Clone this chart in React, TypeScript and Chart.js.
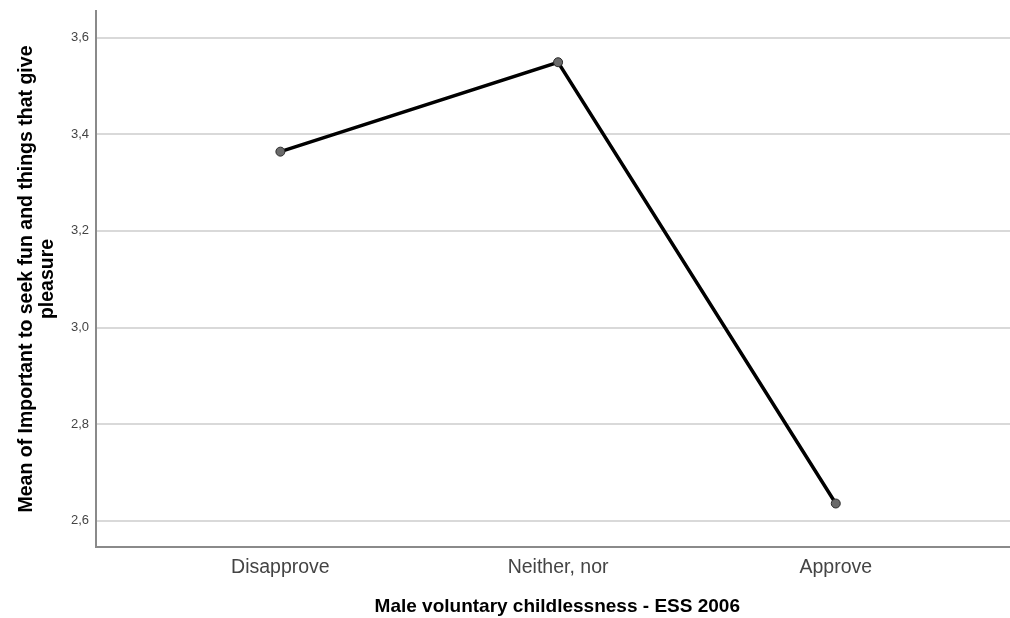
import React, { useEffect, useRef } from "react";
import { Chart, registerables } from "chart.js";

Chart.register(...registerables);

const categories = ["Disapprove", "Neither, nor", "Approve"];
const meanValues = [3.364, 3.549, 2.636];
const yTickValues = [2.6, 2.8, 3.0, 3.2, 3.4, 3.6];
const yTitle = ["Mean of Important to seek fun and things that give", "pleasure"];
const xTitle = "Male voluntary childlessness - ESS 2006";

export default function App() {
  const ref = useRef<HTMLCanvasElement | null>(null);

  useEffect(() => {
    if (!ref.current) return;
    const font = "'Liberation Sans', Arial, sans-serif";
    const chart = new Chart(ref.current, {
      type: "line",
      data: {
        datasets: [
          {
            data: categories.map((c, i) => ({ x: i, y: meanValues[i] })),
            borderColor: "#000000",
            borderWidth: 3.5,
            pointRadius: 4.5,
            pointBackgroundColor: "#6a6a6a",
            pointBorderColor: "#2a2a2a",
            pointBorderWidth: 1,
            tension: 0,
          },
        ],
      },
      options: {
        animation: false,
        responsive: false,
        maintainAspectRatio: false,
        layout: { padding: { top: 11, left: 0, right: 0, bottom: 0 } },
        plugins: { legend: { display: false }, tooltip: { enabled: false } },
        scales: {
          x: {
            type: "linear",
            min: -0.664,
            max: 2.658,
            afterBuildTicks: (s: any) => {
              s.ticks = categories.map((_, i) => ({ value: i }));
            },
            afterFit: (s: any) => {
              s.height = 71;
            },
            grid: { display: false, drawTicks: false },
            border: { display: true, color: "#8a8a8a", width: 2 },
            ticks: {
              padding: 9,
              color: "#444444",
              font: { family: font, size: 19.5 },
              maxRotation: 0,
              callback: (v: any) => categories[v as number] ?? "",
            },
            title: {
              display: true,
              text: xTitle,
              color: "#000000",
              font: { family: font, size: 19, weight: "bold" },
              padding: { top: 0, bottom: 0 },
            },
          },
          y: {
            min: 2.546,
            max: 3.655,
            afterBuildTicks: (s: any) => {
              s.ticks = yTickValues.map((v) => ({ value: v }));
            },
            afterFit: (s: any) => {
              s.width = 96;
            },
            grid: {
              color: "#d9d9d9",
              lineWidth: 2,
              drawTicks: true,
              tickLength: 4,
              tickColor: "rgba(0,0,0,0)",
            },
            border: { display: true, color: "#8a8a8a", width: 2 },
            ticks: {
              padding: 3,
              color: "#444444",
              font: { family: font, size: 13 },
              callback: (v: any) => Number(v).toFixed(1).replace(".", ","),
            },
            title: {
              display: true,
              text: yTitle,
              color: "#000000",
              font: { family: font, size: 19.5, weight: "bold", lineHeight: 1.05 },
              padding: { top: 16.5, bottom: 0 },
            },
          },
        },
      },
    });
    return () => chart.destroy();
  }, []);

  return (
    <div
      style={{
        position: "fixed",
        left: 0,
        top: 0,
        width: 1010,
        height: 618,
        overflow: "hidden",
        background: "#ffffff",
      }}
    >
      <canvas ref={ref} width={1024} height={618} style={{ width: 1024, height: 618, display: "block" }} />
    </div>
  );
}
